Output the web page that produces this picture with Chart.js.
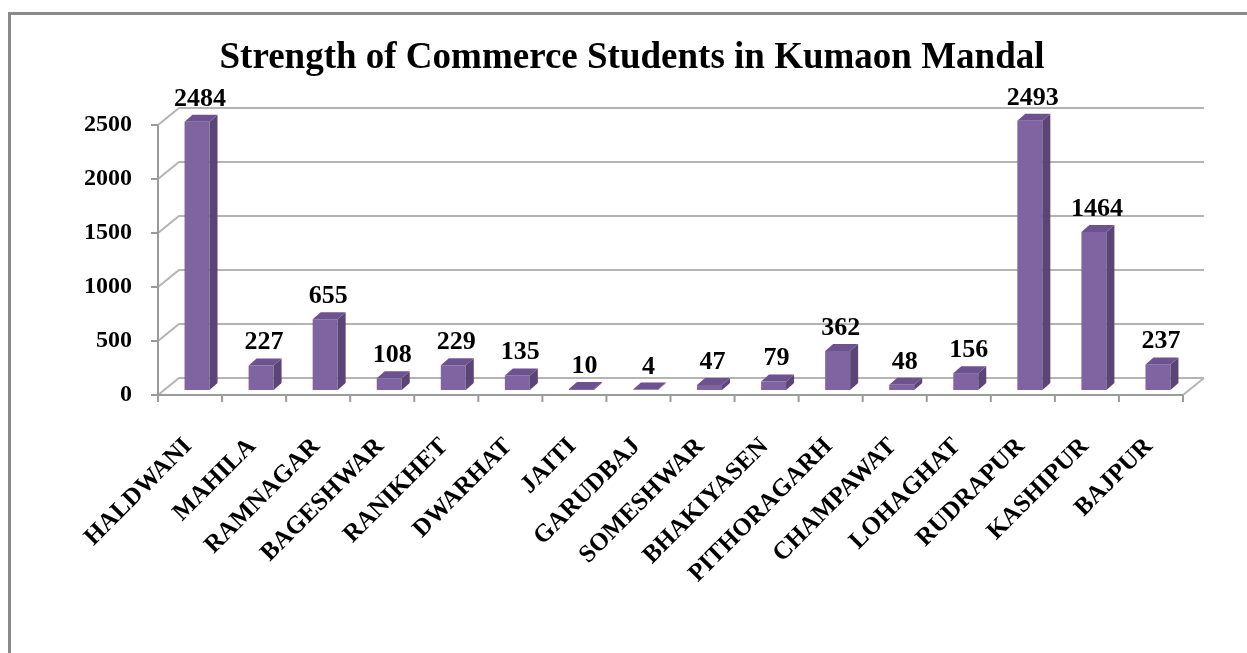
<!DOCTYPE html>
<html>
<head>
<meta charset="utf-8">
<script src="https://cdn.jsdelivr.net/npm/chart.js@4.4.1/dist/chart.umd.min.js"></script>
<style>
  html, body { margin: 0; padding: 0; background: #fff; }
  #wrap { position: relative; width: 1247px; height: 653px; }
</style>
</head>
<body>
<div id="wrap"><canvas id="chart" width="1247" height="653"></canvas></div>
<script>
const colleges = ['HALDWANI','MAHILA','RAMNAGAR','BAGESHWAR','RANIKHET','DWARHAT','JAITI','GARUDBAJ',
  'SOMESHWAR','BHAKIYASEN','PITHORAGARH','CHAMPAWAT','LOHAGHAT','RUDRAPUR','KASHIPUR','BAJPUR'];
const students = [2484, 227, 655, 108, 229, 135, 10, 4, 47, 79, 362, 48, 156, 2493, 1464, 237];
const yTicks = [0, 500, 1000, 1500, 2000, 2500];

const serif = '"Liberation Serif", "Times New Roman", serif';

// offsets of the fake 3d box (pixels)
const barShift = { x: 7, y: -5 };   // front axis plane -> bar front plane
const barDepth = { x: 8, y: -7 };
const wallShift = { x: 21, y: -17 }; // front axis plane -> back wall

const border = {
  id: 'border',
  beforeDraw(chart) {
    const c = chart.ctx;
    c.save();
    c.strokeStyle = '#8a8a8a';
    c.lineWidth = 3;
    c.strokeRect(9.5, 13.5, 1300, 800);
    c.restore();
  }
};

const walls = {
  id: 'walls',
  beforeDatasetsDraw(chart) {
    const c = chart.ctx, x = chart.scales.x, y = chart.scales.y;
    const left = x.left - barShift.x, right = x.right - barShift.x;
    const fy = v => y.getPixelForValue(v) - barShift.y;
    c.save();
    c.lineWidth = 2;
    c.strokeStyle = '#b4b4b4';
    yTicks.forEach(v => {
      c.beginPath();
      c.moveTo(left, fy(v));
      c.lineTo(left + wallShift.x, fy(v) + wallShift.y);
      c.lineTo(right + wallShift.x, fy(v) + wallShift.y);
      c.stroke();
    });
    // floor right edge
    c.beginPath();
    c.moveTo(right, fy(0));
    c.lineTo(right + wallShift.x, fy(0) + wallShift.y);
    c.stroke();
    // front axes
    c.strokeStyle = '#9a9a9a';
    c.beginPath();
    c.moveTo(left, fy(2500));
    c.lineTo(left, fy(0));
    c.lineTo(right, fy(0));
    c.stroke();
    yTicks.forEach(v => {
      c.beginPath();
      c.moveTo(left - 7, fy(v));
      c.lineTo(left, fy(v));
      c.stroke();
    });
    const n = colleges.length;
    for (let i = 0; i <= n; i++) {
      const px = left + i * (right - left) / n;
      c.beginPath();
      c.moveTo(px, fy(0));
      c.lineTo(px, fy(0) + 7);
      c.stroke();
    }
    c.restore();
  }
};

const boxes = {
  id: 'boxes',
  afterDatasetsDraw(chart) {
    const c = chart.ctx;
    const meta = chart.getDatasetMeta(0);
    c.save();
    meta.data.forEach((bar, i) => {
      const l = bar.x - bar.width / 2, r = bar.x + bar.width / 2;
      const t = bar.y, b = bar.base;
      // side
      c.fillStyle = '#5a4574';
      c.beginPath();
      c.moveTo(r, t);
      c.lineTo(r + barDepth.x, t + barDepth.y);
      c.lineTo(r + barDepth.x, b + barDepth.y);
      c.lineTo(r, b);
      c.closePath();
      c.fill();
      // top
      c.fillStyle = '#6c5390';
      c.beginPath();
      c.moveTo(l, t);
      c.lineTo(l + barDepth.x, t + barDepth.y);
      c.lineTo(r + barDepth.x, t + barDepth.y);
      c.lineTo(r, t);
      c.closePath();
      c.fill();
      // value label
      c.fillStyle = '#000';
      c.font = 'bold 26px ' + serif;
      c.textAlign = 'center';
      c.textBaseline = 'alphabetic';
      c.fillText(String(students[i]), bar.x + 3, t + barDepth.y - 9);
    });
    c.restore();
  }
};

new Chart(document.getElementById('chart'), {
  type: 'bar',
  data: {
    labels: colleges,
    datasets: [{
      data: students,
      backgroundColor: '#8064a2',
      borderWidth: 0,
      barPercentage: 0.39,
      categoryPercentage: 1
    }]
  },
  options: {
    responsive: false,
    animation: false,
    layout: { padding: { left: 74, right: 57, top: 0, bottom: 0 } },
    plugins: {
      legend: { display: false },
      tooltip: { enabled: false },
      title: {
        display: true,
        text: 'Strength of Commerce Students in Kumaon Mandal',
        color: '#000',
        font: { family: serif, size: 37, weight: 'bold', lineHeight: 1.2 },
        padding: { top: 36, bottom: 39.6 }
      }
    },
    scales: {
      x: {
        grid: { display: false, drawTicks: false },
        border: { display: false },
        ticks: {
          color: '#000',
          font: { family: serif, size: 25, weight: 'bold' },
          minRotation: 45,
          maxRotation: 45,
          autoSkip: false,
          padding: 42,
          labelOffset: -9
        },
        afterFit(s) { s.height = 263; }
      },
      y: {
        min: 0,
        max: 2500,
        grid: { display: false, drawTicks: false },
        border: { display: false },
        ticks: {
          stepSize: 500,
          color: '#000',
          font: { family: serif, size: 24, weight: 'bold' },
          padding: 33,
          labelOffset: 5,
          callback: v => String(v)
        },
        afterFit(s) { s.width = 91; }
      }
    }
  },
  plugins: [border, walls, boxes]
});
</script>
</body>
</html>
